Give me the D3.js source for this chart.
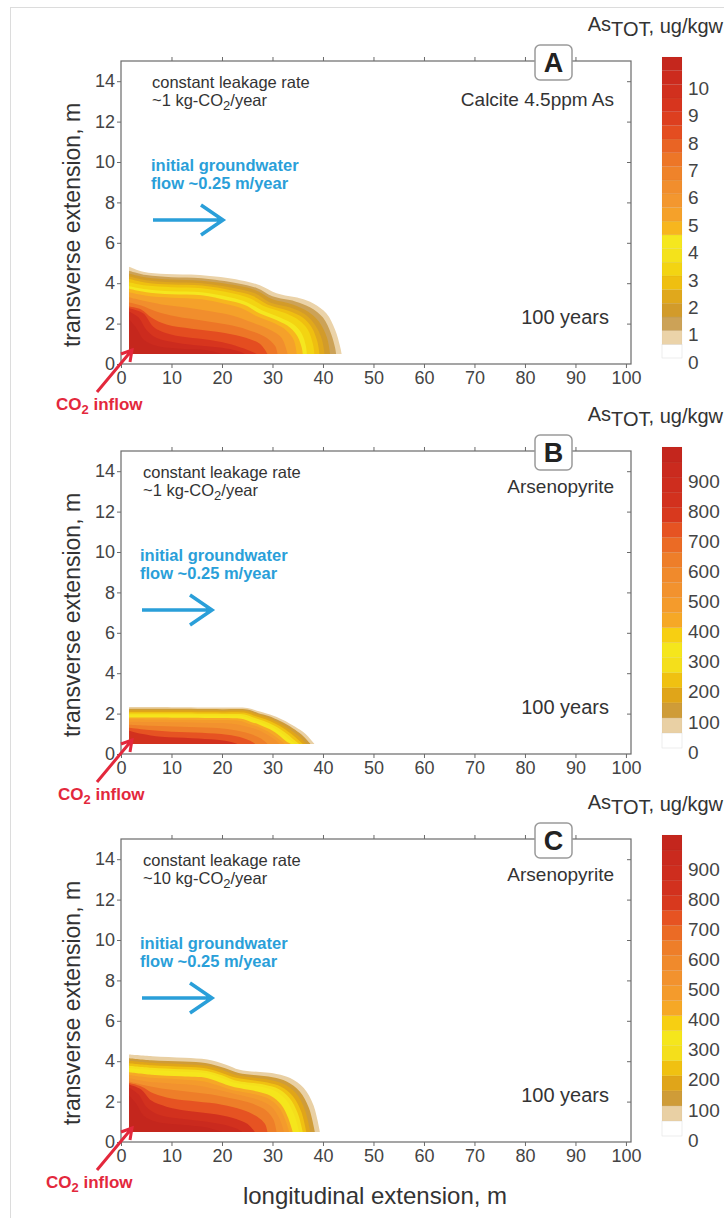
<!DOCTYPE html>
<html>
<head>
<meta charset="utf-8">
<script src="https://cdn.jsdelivr.net/npm/d3@7"></script>
<style>
  body { margin: 0; background: #fff; }
  svg { display: block; font-family: "Liberation Sans", Arial, sans-serif; }
</style>
</head>
<body>
<script>
const width = 724, height = 1218;

// axes
const xTicks = [0, 10, 20, 30, 40, 50, 60, 70, 80, 90, 100];
const yTicks = [0, 2, 4, 6, 8, 10, 12, 14];

// panel texts
const panelLetters = ["A", "B", "C"];
const leakRates = ["~1", "~1", "~10"];
const minerals = ["Calcite 4.5ppm As", "Arsenopyrite", "Arsenopyrite"];

// colorbar A: 0..11 ug/kgw, 0.5 wide bands (bottom -> top)
const bandStepA = 0.5;
const cbMaxA = 11;
const cbLabelsA = [0, 1, 2, 3, 4, 5, 6, 7, 8, 9, 10];
const colorsA = ["#ffffff", "#ebd3a9", "#cca257", "#d29b2a", "#e0a81c", "#efbf10", "#f3d412",
  "#f4e21b", "#f5e71f", "#f7b61e", "#f5a12a", "#f3972f", "#f18e2d", "#ef832a", "#ed7627",
  "#e96424", "#e44d20", "#dd3f1f", "#d7351e", "#d1301e", "#cc2b1e", "#c5271d"];

// colorbar B, C: 0..1000 ug/kgw, 50 wide bands
const bandStepB = 50;
const cbMaxB = 1000;
const cbLabelsB = [0, 100, 200, 300, 400, 500, 600, 700, 800, 900];
const colorsB = ["#ffffff", "#e9d0a4", "#cf9c38", "#e0a519", "#f0c111", "#f4df1b", "#f5e61c",
  "#f7cf12", "#f6a826", "#f49b2c", "#f2922e", "#f08a2c", "#ee7e29", "#eb6b25", "#e65322",
  "#d8391e", "#d2311e", "#ce2d1e", "#ca2a1e", "#c4261d"];

// plume starts at these coordinates (m)
const plumeX0 = 1.6, plumeY0 = 0.5;

// contour outlines [level, [[x, y], ...]], left edge -> bottom edge
const plumeA = [
  [0.5, [[1.6,4.82],[4.4,4.57],[9,4.45],[15.6,4.4],[23.6,4.15],[27.5,3.9],[30.8,3.5],[35.4,3.25],[38.1,3.0],[40.7,2.5],[42.4,1.7],[43.4,0.86],[43.7,0.5]]],
  [1.0, [[1.6,4.62],[5,4.4],[10,4.3],[16,4.25],[23,4.0],[27,3.75],[30,3.35],[34.5,3.1],[37.5,2.8],[40,2.3],[41.6,1.5],[42.4,0.8],[42.6,0.5]]],
  [1.5, [[1.6,4.48],[5,4.28],[10,4.18],[16,4.12],[23,3.88],[27,3.62],[30,3.2],[34,2.95],[37,2.6],[39.2,2.1],[40.8,1.3],[41.4,0.5]]],
  [2.0, [[1.6,4.35],[5,4.15],[10,4.05],[16,4.0],[22.5,3.75],[26.5,3.5],[29.5,3.05],[33.5,2.8],[36.5,2.45],[38.5,1.9],[39.8,1.2],[40.3,0.5]]],
  [2.5, [[1.6,4.22],[5,4.02],[10,3.93],[16,3.88],[22,3.64],[26,3.38],[29,2.95],[33,2.65],[36,2.3],[37.8,1.8],[38.9,1.1],[39.3,0.5]]],
  [3.0, [[1.6,4.05],[5,3.88],[10,3.8],[16,3.75],[22,3.5],[25.5,3.25],[28.5,2.85],[32.5,2.52],[35.3,2.15],[37,1.7],[38,1.0],[38.3,0.5]]],
  [4.0, [[1.6,3.85],[5,3.7],[10,3.6],[16,3.55],[21.5,3.3],[25,3.05],[28,2.65],[31.5,2.3],[34.2,1.95],[35.8,1.5],[36.6,0.9],[36.8,0.5]]],
  [4.5, [[1.6,3.72],[5,3.55],[10,3.45],[16,3.4],[21,3.15],[24.5,2.92],[27.5,2.5],[31,2.15],[33.5,1.8],[35,1.35],[35.8,0.8],[36,0.5]]],
  [5.0, [[1.6,3.55],[5,3.38],[10,3.28],[16,3.2],[20.5,2.98],[24,2.75],[27,2.35],[30.5,2.0],[32.8,1.65],[34.2,1.2],[34.8,0.5]]],
  [6.0, [[1.6,3.3],[4,3.15],[8,2.95],[13,2.8],[18,2.6],[22,2.4],[26,2.05],[29.5,1.7],[31.8,1.3],[33,0.5]]],
  [7.0, [[1.6,3.05],[4,2.9],[7,2.6],[11,2.35],[16,2.15],[21,1.95],[25,1.7],[28.5,1.35],[30.5,0.9],[31,0.5]]],
  [8.0, [[1.6,2.85],[4,2.7],[6,2.3],[9,1.95],[14,1.75],[19,1.6],[24,1.35],[27.5,1.0],[29,0.5]]],
  [9.0, [[1.6,2.76],[4.4,2.51],[6.4,1.85],[9,1.52],[13,1.32],[17.6,1.19],[20.9,1.03],[24.2,0.78],[26.9,0.5]]],
  [10.0, [[1.6,2.6],[3.5,2.3],[5,1.7],[7,1.3],[11,1.05],[16,0.9],[20,0.8],[23,0.65],[24.5,0.5]]],
  [10.5, [[1.6,2.2],[3,1.8],[4.5,1.2],[7,0.9],[12,0.75],[17,0.68],[20,0.5]]]
];

const plumeB = [
  [50, [[1.6,2.32],[10,2.32],[20,2.3],[25,2.28],[27.5,2.1],[29.5,1.95],[32,1.7],[34.5,1.35],[36.5,1.0],[38.3,0.5]]],
  [100, [[1.6,2.24],[10,2.24],[20,2.22],[25,2.2],[27.2,2.02],[29.2,1.88],[31.6,1.62],[34,1.28],[35.8,0.95],[37.5,0.5]]],
  [150, [[1.6,2.16],[10,2.16],[20,2.14],[25,2.12],[27,1.95],[29,1.8],[31.2,1.55],[33.5,1.2],[35.2,0.88],[36.7,0.5]]],
  [200, [[1.6,2.08],[10,2.08],[20,2.06],[24.8,2.03],[26.7,1.87],[28.6,1.72],[30.8,1.47],[33,1.13],[34.6,0.82],[36,0.5]]],
  [250, [[1.6,2.0],[10,2.0],[20,1.98],[24.5,1.95],[26.4,1.79],[28.2,1.64],[30.4,1.4],[32.5,1.06],[34,0.76],[35.3,0.5]]],
  [300, [[1.6,1.92],[10,1.92],[20,1.9],[24.2,1.87],[26,1.71],[27.8,1.56],[30,1.32],[32,0.99],[33.4,0.7],[34.6,0.5]]],
  [400, [[1.6,1.8],[10,1.8],[20,1.78],[23.8,1.74],[25.6,1.6],[27.4,1.45],[29.5,1.22],[31.4,0.9],[32.7,0.63],[33.6,0.5]]],
  [450, [[1.6,1.72],[10,1.7],[20,1.68],[23.4,1.64],[25.2,1.5],[27,1.36],[29,1.13],[30.8,0.83],[32.4,0.5]]],
  [500, [[1.6,1.6],[8,1.58],[16,1.55],[22,1.5],[25,1.35],[27,1.2],[29,0.95],[30.5,0.7],[31.3,0.5]]],
  [600, [[1.6,1.45],[6,1.4],[12,1.35],[18,1.3],[22,1.2],[25.5,1.0],[27.8,0.75],[29,0.5]]],
  [700, [[1.6,1.3],[5,1.2],[10,1.1],[16,1.05],[21,0.95],[24,0.8],[26,0.6],[26.6,0.5]]],
  [800, [[1.6,1.15],[4,1.0],[8,0.85],[14,0.78],[19,0.7],[22,0.58],[23,0.5]]]
];

const plumeC = [
  [50, [[1.6,4.33],[6.2,4.25],[12.6,4.17],[17.1,4.08],[20.8,3.83],[23.5,3.58],[30.8,3.37],[33.5,3.17],[36.2,2.67],[38.1,1.83],[39.4,0.5]]],
  [100, [[1.6,4.15],[6,4.05],[12.5,3.98],[17,3.9],[20.5,3.66],[23.3,3.42],[30,3.2],[32.8,3.0],[35.4,2.5],[37.2,1.7],[38.4,0.5]]],
  [150, [[1.6,4.02],[6,3.92],[12.5,3.85],[17,3.77],[20.3,3.54],[23,3.3],[29.5,3.07],[32.2,2.87],[34.7,2.4],[36.4,1.6],[37.5,0.5]]],
  [200, [[1.6,3.9],[6,3.8],[12.5,3.72],[17,3.64],[20,3.42],[22.8,3.18],[29,2.95],[31.7,2.74],[34,2.28],[35.7,1.5],[36.7,0.5]]],
  [250, [[1.6,3.78],[6,3.68],[12,3.6],[17,3.52],[20,3.3],[22.5,3.06],[28.5,2.83],[31.2,2.62],[33.4,2.17],[35,1.42],[36,0.5]]],
  [300, [[1.6,3.66],[6,3.56],[12,3.48],[17,3.4],[19.8,3.18],[22.3,2.95],[28,2.72],[30.7,2.5],[32.8,2.06],[34.3,1.35],[35.3,0.5]]],
  [400, [[1.6,3.45],[6,3.33],[12,3.25],[17,3.17],[19.5,2.96],[22,2.75],[27,2.5],[29.7,2.28],[31.7,1.86],[33.1,1.2],[34,0.5]]],
  [450, [[1.6,3.32],[6,3.18],[12,3.1],[16.5,3.0],[19,2.82],[21.6,2.6],[26.5,2.36],[29.2,2.14],[31.2,1.74],[32.5,1.12],[33.3,0.5]]],
  [500, [[1.6,3.15],[5,3.0],[10,2.9],[15,2.8],[19,2.6],[23,2.35],[27,2.1],[29.8,1.75],[31.3,1.2],[32.3,0.5]]],
  [600, [[1.6,3.0],[4,2.85],[8,2.65],[13,2.5],[18,2.35],[22,2.15],[26,1.9],[28.8,1.55],[30.2,1.1],[30.8,0.5]]],
  [700, [[1.6,2.92],[4,2.75],[6.5,2.4],[10,2.15],[15,2.0],[20,1.85],[24,1.6],[27,1.25],[28.5,0.9],[29,0.5]]],
  [800, [[1.6,2.85],[4,2.6],[6,2.05],[9,1.75],[13,1.55],[18,1.4],[22,1.2],[25,0.9],[26.5,0.5]]],
  [900, [[1.6,2.7],[3.5,2.35],[5,1.75],[7.5,1.35],[12,1.15],[17,1.0],[20.5,0.85],[23,0.65],[24,0.5]]],
  [950, [[1.6,2.3],[3,1.9],[4.5,1.3],[7,1.0],[12,0.85],[17,0.72],[20,0.5]]]
];

// layout
const plotLeft = 121, plotRight = 631, plotH = 303;
const tops = [61, 451, 839];
const inflowX = [56, 58, 46];
const panels = [
  {plume: plumeA, colors: colorsA, step: bandStepA, cbMax: cbMaxA, cbLabels: cbLabelsA},
  {plume: plumeB, colors: colorsB, step: bandStepB, cbMax: cbMaxB, cbLabels: cbLabelsB},
  {plume: plumeC, colors: colorsB, step: bandStepB, cbMax: cbMaxB, cbLabels: cbLabelsB}
];

const svg = d3.select("body").append("svg")
  .attr("width", width)
  .attr("height", height);
svg.append("rect").attr("width", width).attr("height", height).attr("fill", "#fff");
// outer frame of the figure
svg.append("rect")
  .attr("x", 10.5).attr("y", 7.5).attr("width", 760).attr("height", 1260)
  .attr("fill", "none").attr("stroke", "#dcdcdc");

const blue = "#2a9fd9", red = "#e3283c", axisGrey = "#6a6a6a", textGrey = "#444";

panels.forEach((p, i) => {
  const top = tops[i], bottom = top + plotH;
  const x = d3.scaleLinear().domain([0, 101]).range([plotLeft, plotRight]);
  const y = d3.scaleLinear().domain([0, 15]).range([bottom, top]);
  const g = svg.append("g");

  // plume, outer (low) levels first
  const line = d3.line()
    .x(d => x(d[0])).y(d => y(d[1]))
    .curve(d3.curveCatmullRom.alpha(0.5));
  g.selectAll("path.band").data(p.plume).join("path")
    .attr("class", "band")
    .attr("d", d => `M${x(plumeX0)},${y(plumeY0)}L` + line(d[1]).slice(1) + "Z")
    .attr("fill", d => p.colors[Math.round(d[0] / p.step)]);

  // frame + axes
  const styleAxis = sel => {
    sel.select(".domain").remove();
    sel.selectAll("line").attr("stroke", axisGrey).attr("stroke-width", 1);
    sel.selectAll("text").attr("fill", textGrey).attr("font-size", 18)
      .attr("font-family", "'Liberation Sans', Arial, sans-serif");
  };
  g.append("rect")
    .attr("x", x(0)).attr("y", top).attr("width", x(101) - x(0)).attr("height", plotH)
    .attr("fill", "none").attr("stroke", axisGrey).attr("stroke-width", 1.2);
  g.append("g").attr("transform", `translate(0,${bottom})`)
    .call(d3.axisBottom(x).tickValues(xTicks).tickSize(4).tickPadding(3)).call(styleAxis);
  g.append("g").attr("transform", `translate(${x(0)},0)`)
    .call(d3.axisLeft(y).tickValues(yTicks).tickSize(4).tickPadding(2)).call(styleAxis);
  g.append("g").attr("transform", `translate(0,${top})`)
    .call(d3.axisTop(x).tickValues(xTicks.slice(1, -1)).tickSize(4).tickFormat(() => "")).call(styleAxis);
  g.append("g").attr("transform", `translate(${plotRight},0)`)
    .call(d3.axisRight(y).tickValues(yTicks.slice(1)).tickSize(-4).tickFormat(() => "")).call(styleAxis);

  // y label
  g.append("text")
    .attr("transform", `translate(80,${top + 164}) rotate(-90)`)
    .attr("text-anchor", "middle").attr("font-size", 23).attr("fill", "#333")
    .text("transverse extension, m");

  // annotations
  const tl = g.append("text").attr("x", 152 - (i ? 9 : 0)).attr("y", top + 27)
    .attr("font-size", 16.5).attr("fill", "#333");
  tl.text("constant leakage rate");
  const t2 = g.append("text").attr("x", 152 - (i ? 9 : 0)).attr("y", top + 45)
    .attr("font-size", 16.5).attr("fill", "#333");
  t2.append("tspan").text(leakRates[i] + " kg-CO");
  t2.append("tspan").attr("dy", 4).attr("font-size", 13).text("2");
  t2.append("tspan").attr("dy", -4).text("/year");

  g.append("text").attr("x", 614).attr("y", top + 45 - (i ? 3 : 0))
    .attr("text-anchor", "end").attr("font-size", 19).attr("fill", "#333")
    .text(minerals[i]);

  const bx = 151 - (i ? 11 : 0);
  g.append("text").attr("x", bx).attr("y", top + 110).attr("font-size", 16.5)
    .attr("font-weight", "bold").attr("fill", blue).text("initial groundwater");
  g.append("text").attr("x", bx).attr("y", top + 128).attr("font-size", 16.5)
    .attr("font-weight", "bold").attr("fill", blue).text("flow ~0.25 m/year");
  const ay = top + 159, ax0 = bx + 2, ax1 = bx + 72;
  g.append("path")
    .attr("d", `M${ax0},${ay}L${ax1},${ay}M${ax1 - 22},${ay - 15}L${ax1},${ay}L${ax1 - 22},${ay + 15}`)
    .attr("fill", "none").attr("stroke", blue).attr("stroke-width", 3.5);

  g.append("text").attr("x", 609).attr("y", top + 263)
    .attr("text-anchor", "end").attr("font-size", 20).attr("fill", "#333")
    .text("100 years");

  // CO2 inflow arrow
  const rx = x(0), ry = bottom;
  g.append("path")
    .attr("d", `M${rx - 24},${ry + 28}L${rx + 11},${ry - 14}M${rx},${ry - 10}L${rx + 11},${ry - 14}L${rx + 9},${ry - 2}`)
    .attr("fill", "none").attr("stroke", red).attr("stroke-width", 3);
  const co = g.append("text").attr("x", inflowX[i]).attr("y", ry + 46)
    .attr("font-size", 17).attr("font-weight", "bold").attr("fill", red);
  co.append("tspan").text("CO");
  co.append("tspan").attr("dy", 4).attr("font-size", 13).text("2");
  co.append("tspan").attr("dy", -4).text(" inflow");

  // panel letter
  g.append("rect").attr("x", 535).attr("y", top - 16).attr("width", 37).attr("height", 35)
    .attr("rx", 5).attr("fill", "#fff").attr("stroke", "#9a9a9a").attr("stroke-width", 1.5);
  g.append("text").attr("x", 553.5).attr("y", top + 11).attr("text-anchor", "middle")
    .attr("font-size", 27).attr("font-weight", "bold").attr("fill", "#222")
    .text(panelLetters[i]);

  // colorbar
  const cb = d3.scaleLinear().domain([0, p.cbMax]).range([top + 297, top - 4]);
  const edges = p.colors.map((c, k) => k * p.step);
  g.selectAll("rect.cb").data(edges).join("rect")
    .attr("class", "cb")
    .attr("x", 662).attr("width", 20)
    .attr("y", d => cb(d + p.step)).attr("height", d => cb(d) - cb(d + p.step))
    .attr("fill", (d, k) => p.colors[k])
    .attr("stroke", (d, k) => k === 0 ? "#e2e2e2" : "rgba(0,0,0,0.05)").attr("stroke-width", 0.6);
  g.selectAll("text.cbl").data(p.cbLabels).join("text")
    .attr("class", "cbl")
    .attr("x", 688).attr("y", d => cb(d) + 4).attr("dy", "0.35em")
    .attr("font-size", 19).attr("fill", textGrey)
    .text(d => d);

  const title = g.append("text").attr("x", 723).attr("y", top - 30)
    .attr("text-anchor", "end").attr("font-size", 20).attr("fill", "#333");
  title.append("tspan").text("As");
  title.append("tspan").attr("dy", 5).text("TOT");
  title.append("tspan").attr("dy", -3).text(", ug/kgw");
});

svg.append("text").attr("x", 375).attr("y", 1204).attr("text-anchor", "middle")
  .attr("font-size", 24).attr("fill", "#333")
  .text("longitudinal extension, m");
</script>
</body>
</html>
